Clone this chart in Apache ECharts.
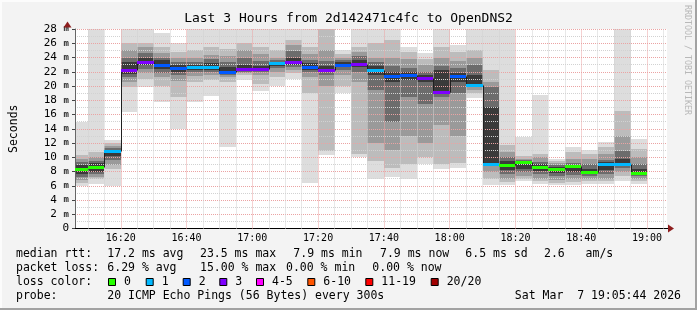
<!DOCTYPE html>
<html><head><meta charset="utf-8">
<script src="https://cdn.jsdelivr.net/npm/echarts@6/dist/echarts.min.js"></script>
<style>html,body{margin:0;padding:0;background:#f3f3f3}#c{width:697px;height:310px}</style>
</head><body><div id="c"></div><script>
// ---- data (ms) ----
const barStart = ['16:05','16:10','16:15','16:20','16:25','16:30','16:35','16:40','16:45','16:50',
  '16:55','17:00','17:05','17:10','17:15','17:20','17:25','17:30','17:35','17:40',
  '17:45','17:50','17:55','18:00','18:05','18:10','18:15','18:20','18:25','18:30',
  '18:35','18:40','18:45','18:50','18:55'];
const pingMin = [6.0,6.2,5.9,16.3,19.9,17.8,14.0,17.7,18.6,11.5, 20.9,19.3,20.0,21.0,6.4,10.3,19.0,10.0,7.0,7.2,
  6.9,9.0,8.4,8.5,18.3,6.1,6.1,6.7,6.2,6.1, 6.1,6.3,6.2,6.7,6.3];
const pingMax = [15.0,30,12.4,30,30,27.5,26.1,30,30,30, 30,30,30,30,30,30,25.1,30,30,30,
  25.5,24.7,30,25.7,30,30,30,12.9,18.8,9.7, 11.4,11.0,12.1,30,12.5];
const band2Lo = [6.4,6.9,8.4,19.8,21.0,20.0,18.5,20.5,20.8,20.5, 21.5,20.3,21.3,21.8,19.0,10.9,20.0,10.5,9.5,8.5,
  9.0,10.0,9.0,9.2,19.0,7.0,6.5,7.0,6.6,6.4, 6.5,6.6,6.6,7.3,6.6];
const band2Hi = [10.3,10.7,12.0,26.0,26.0,25.5,24.8,25.0,25.5,25.2, 26.0,25.5,25.0,26.5,25.5,28.0,24.5,25.5,26.0,26.5,
  24.8,23.8,25.5,24.8,25.0,22.3,11.7,10.2,10.5,9.5, 10.8,10.5,11.5,16.5,11.2];
const band3Lo = [6.8,7.2,8.9,20.6,21.8,21.2,20.7,21.4,21.5,21.2, 21.8,21.5,22.0,22.2,21.2,20.0,21.5,20.5,12.0,11.0,
  13.0,12.0,14.5,13.0,19.5,8.0,7.0,7.4,7.0,6.8, 7.0,7.0,7.0,8.0,7.0];
const band3Hi = [9.8,10.0,11.6,25.0,25.5,24.7,24.0,24.0,24.3,24.2, 25.0,24.5,24.0,25.8,24.5,25.0,24.0,24.8,24.0,24.0,
  23.8,23.0,24.0,23.5,24.0,20.5,10.8,9.8,10.0,9.2, 9.8,9.8,10.5,13.0,10.0];
const band4Lo = [7.2,7.6,9.6,21.2,22.4,21.8,21.5,21.9,22.0,21.5, 22.0,21.9,22.5,22.6,21.9,21.5,22.2,22.0,19.5,15.0,
  18.5,17.5,18.5,19.0,19.8,8.8,7.6,7.9,7.6,7.3, 7.5,7.3,7.6,8.5,7.4];
const band4Hi = [9.3,9.5,11.3,24.0,24.6,24.0,23.4,23.4,23.8,23.3, 24.0,23.5,23.6,24.9,23.7,23.5,23.6,24.2,23.3,22.8,
  22.5,22.0,22.8,22.5,23.0,19.8,10.0,9.6,9.4,8.9, 9.2,9.0,9.6,10.9,9.0];
const band5Lo = [7.7,8.0,10.2,21.7,22.9,22.4,22.0,22.2,22.3,21.7, 22.2,22.1,22.8,23.0,22.3,21.9,22.6,22.6,21.5,20.5,
  20.8,20.5,19.0,20.5,20.0,8.8,8.2,8.4,8.1,7.8, 8.0,7.6,8.2,8.8,7.6];
const band5Hi = [8.9,9.2,11.0,23.3,24.0,23.6,23.0,23.0,23.2,22.6, 23.0,22.8,23.4,24.0,23.2,22.8,23.3,23.6,22.8,22.0,
  22.0,21.6,22.2,21.8,21.5,17.0,9.5,9.4,9.0,8.6, 8.9,8.4,9.3,9.8,8.3];
const median = [8.4,8.6,10.9,22.3,23.4,23.0,22.5,22.6,22.7,21.9, 22.4,22.4,23.2,23.3,22.7,22.2,23.0,23.1,22.2,21.4,
  21.5,21.1,19.2,21.4,20.2,9.0,8.9,9.3,8.6,8.4, 8.8,7.9,9.1,9.1,7.8];
// loss category index per bar (0 -> "0", 1 -> "1", 2 -> "2", 3 -> "3")
const lossCat = [0,0,1,3,3,2,2,1,1,2, 3,3,1,3,2,3,2,3,1,2, 2,3,3,2,1,1,0,0,0,0, 0,0,1,1,0];
const lossLabels = ['0','1','2','3','4-5','6-10','11-19','20/20'];
const lossColors = ['#26ff00','#00b8ff','#0059ff','#7e00ff','#ff00ff','#ff5500','#ff0000','#a10000'];
const xTickLabels = ['16:20','16:40','17:00','17:20','17:40','18:00','18:20','18:40','19:00'];
const statsRtt = ['median rtt:','17.2 ms avg','23.5 ms max','7.9 ms min','7.9 ms now','6.5 ms sd','2.6   am/s'];
const statsLoss = ['packet loss:','6.29 % avg','15.00 % max','0.00 % min','0.00 % now'];
const probeText = ['probe:','20 ICMP Echo Pings (56 Bytes) every 300s','Sat Mar  7 19:05:44 2026'];
const titleText = 'Last 3 Hours from 2d142471c4fc to OpenDNS2';

// ---- helpers ----
const toMin = s => { const p = s.split(':').map(Number); return p[0]*60 + p[1]; };
const fmtMin = v => { const h = Math.floor(v/60), m = Math.round(v - h*60); return h + ':' + String(m).padStart(2,'0'); };
const STEP = 5;
const X_MIN = toMin('16:06') + 5/60, X_MAX = X_MIN + 180;
const MONO = '"DejaVu Sans Mono", monospace';
const bandColors = ['#dddddd','#bcbcbc','#9a9a9a','#6c6c6c','#3a3a3a'];
const bands = [[pingMin,pingMax],[band2Lo,band2Hi],[band3Lo,band3Hi],[band4Lo,band4Hi],[band5Lo,band5Hi]];

const majorX = xTickLabels.map(toMin);
const minorX = [];
for (let v = toMin('16:10'); v <= X_MAX; v += 5) if (majorX.indexOf(v) < 0) minorX.push(v);

const chart = echarts.init(document.getElementById('c'), null, {renderer:'canvas'});

function snapRect(r){ const x0=Math.round(r.x), x1=Math.round(r.x+r.width), y0=Math.round(r.y), y1=Math.round(r.y+r.height); return {x:x0,y:y0,width:x1-x0,height:y1-y0}; }

const smokeData = barStart.map((s,i) => [toMin(s), pingMin[i], pingMax[i]]);
const medData = barStart.map((s,i) => [toMin(s), median[i]]);

const textEl = (text, x, y, opt) => ({type:'text', silent:true, z:100, style: Object.assign({text, x, y, fill:'#000', fontFamily:MONO, fontSize:11.5, verticalAlign:'middle', align:'left'}, opt||{})});

const rttX = [16,107.3,200,293.3,380,465.3,544];
const lossX = [16,107.3,200,286,372.3];
const boxX = [108,145.7,182.7,219.3,256,307.3,365.3,430.7];

const graphics = [
  {type:'rect', shape:{x:0,y:0,width:697,height:2}, style:{fill:'#fcfcfc'}, z:-1, silent:true},
  {type:'rect', shape:{x:0,y:0,width:2,height:310}, style:{fill:'#fcfcfc'}, z:-1, silent:true},
  {type:'rect', shape:{x:0,y:308,width:697,height:2}, style:{fill:'#a2a2a2'}, z:100, silent:true},
  {type:'rect', shape:{x:695,y:0,width:2,height:310}, style:{fill:'#a2a2a2'}, z:100, silent:true},
  textEl(titleText, 348.5, 18.5, {align:'center', fontSize:13}),
  {type:'text', x:687.5, y:60, rotation:-Math.PI/2, silent:true, z:100,
    style:{text:'RRDTOOL / TOBI OETIKER', fill:'#b8b8b8', fontFamily:MONO, fontSize:8.3, align:'center', verticalAlign:'middle'}},
  {type:'line', shape:{x1:67.5,y1:29,x2:67.5,y2:24}, style:{stroke:'#666',lineWidth:1}, z:100, silent:true},
  {type:'polygon', shape:{points:[[63.5,27.5],[71.5,27.5],[67.5,21.5]]}, style:{fill:'#8e1e1e'}, z:101, silent:true},
  {type:'line', shape:{x1:667,y1:228.5,x2:670,y2:228.5}, style:{stroke:'#000',lineWidth:1}, z:100, silent:true},
  {type:'polygon', shape:{points:[[668,224.5],[668,232.5],[674,228.5]]}, style:{fill:'#8e1e1e'}, z:101, silent:true}
];
statsRtt.forEach((t,i) => graphics.push(textEl(t, rttX[i], 254.3)));
statsLoss.forEach((t,i) => graphics.push(textEl(t, lossX[i], 268.3)));
graphics.push(textEl('loss color:', 16, 282.3));
lossLabels.forEach((t,i) => {
  graphics.push({type:'rect', shape:{x:boxX[i]+0.5, y:278.5, width:7, height:7}, style:{fill:lossColors[i], stroke:'#000', lineWidth:1}, z:100, silent:true});
  graphics.push(textEl(t, boxX[i]+16, 282.3));
});
graphics.push(textEl(probeText[0], 16, 296));
graphics.push(textEl(probeText[1], 107.3, 296));
graphics.push(textEl(probeText[2], 681, 296, {align:'right'}));

const option = {
  backgroundColor:'#f3f3f3',
  animation:false,
  grid:{left:67, top:29, width:600, height:199.5, show:true, backgroundColor:'#ffffff', borderWidth:0, containLabel:false},
  xAxis:{type:'value', min:X_MIN, max:X_MAX, z:3,
    axisLine:{show:true, onZero:false, lineStyle:{color:'#000', width:1}},
    axisTick:{show:false, customValues:majorX},
    axisLabel:{customValues:majorX, formatter:v=>fmtMin(v), fontFamily:MONO, fontSize:10, color:'#000', margin:5},
    splitLine:{show:false}},
  yAxis:{type:'value', min:0, max:28, interval:2, z:3,
    name:'Seconds', nameLocation:'middle', nameGap:55, nameRotate:90,
    nameTextStyle:{fontFamily:MONO, fontSize:11.5, color:'#000'},
    axisLine:{show:true, lineStyle:{color:'#666', width:1}},
    axisTick:{show:true, length:3, lineStyle:{color:'#444'}},
    axisLabel:{fontFamily:MONO, fontSize:11, color:'#000', margin:6,
      formatter: v => v === 0 ? '{n|0}' : '{n|' + v + '} {u|m}',
      rich:{n:{fontFamily:MONO, fontSize:11, color:'#000'}, u:{fontFamily:MONO, fontSize:9, color:'#333', fontWeight:'bold'}}},
    splitLine:{show:true, lineStyle:{color:'#eba3a3', type:[1,1], width:1}},
    minorTick:{show:false, splitNumber:2},
    minorSplitLine:{show:true, lineStyle:{color:'#d2d2d2', type:[1,1], width:1}}},
  series:[
    {type:'custom', name:'smoke', z:1, data:smokeData, encode:{x:0, y:[1,2]},
      renderItem:(params, api) => {
        const i = params.dataIndex, t0 = api.value(0), t1 = t0 + STEP;
        const children = [];
        bands.forEach((b,k) => {
          const p0 = api.coord([t0, b[1][i]]), p1 = api.coord([t1, b[0][i]]);
          const r = echarts.graphic.clipRectByRect({x:p0[0], y:p0[1], width:p1[0]-p0[0], height:p1[1]-p0[1]}, params.coordSys);
          if (r) children.push({type:'rect', shape:snapRect(r), style:{fill:bandColors[k]}});
        });
        return {type:'group', children};
      }},
    {type:'line', name:'grid-x', z:4, data:[], silent:true,
      markLine:{silent:true, symbol:'none', label:{show:false}, animation:false,
        data: minorX.map(v=>({xAxis:v, lineStyle:{color:'#d2d2d2', type:[1,1], width:1}}))
          .concat(majorX.map(v=>({xAxis:v, lineStyle:{color:'#eba3a3', type:[1,1], width:1}})))}},
    {type:'custom', name:'median', z:5, data:medData, encode:{x:0, y:1},
      renderItem:(params, api) => {
        const i = params.dataIndex, t0 = api.value(0), m = api.value(1);
        const cs = params.coordSys;
        const a = api.coord([t0, m]), b = api.coord([t0 + STEP, m]);
        const x0 = Math.round(Math.max(a[0], cs.x)), x1 = Math.round(b[0]);
        const y = Math.round(a[1]);
        const children = [
          {type:'line', shape:{x1:x0, y1:y+0.5, x2:x1, y2:y+0.5}, style:{stroke:'#202020', lineWidth:1}}
        ];
        if (i > 0) {
          const py = Math.round(api.coord([t0, median[i-1]])[1]);
          children.push({type:'line', shape:{x1:x0+0.5, y1:py+0.5, x2:x0+0.5, y2:y+0.5}, style:{stroke:'#202020', lineWidth:1}});
        }
        children.push({type:'rect', shape:{x:x0, y:y-1, width:x1-x0, height:3}, style:{fill:lossColors[lossCat[i]]}});
        return {type:'group', children};
      }}
  ],
  graphic: graphics
};
chart.setOption(option);
</script></body></html>
